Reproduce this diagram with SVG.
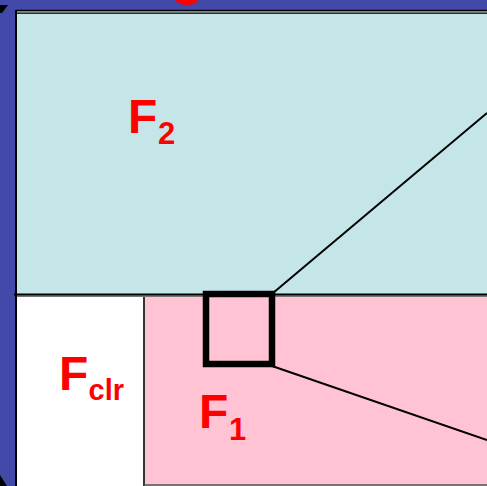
<svg xmlns="http://www.w3.org/2000/svg" width="487" height="486" viewBox="0 0 487 486">
<style>
.lbl{font-family:"Liberation Sans",Arial,sans-serif;font-weight:bold;fill:#FF0000}
.big{font-size:48px}
.sub{font-size:31px}
.edge{stroke:#000;stroke-width:2;fill:none}
</style>
<rect x="0" y="0" width="487" height="486" fill="#4349A9"/>
<ellipse cx="187" cy="0" rx="11" ry="5" fill="#FF0000"/>
<polygon points="0,5 8,5 2,13 0,13" fill="#000"/>
<polygon points="0,475 7,486 0,486" fill="#000"/>
<g id="F2">
<rect x="16" y="10" width="472" height="285" fill="#C4E6E8"/>
<line x1="16" y1="10.5" x2="487" y2="10.5" stroke="#000" stroke-width="1.5"/>
<line x1="17" y1="12" x2="487" y2="12" stroke="#777" stroke-width="1.5"/>
<line x1="17" y1="13.3" x2="487" y2="13.3" stroke="#000" stroke-width="1"/>
<line x1="16" y1="10" x2="16" y2="486" stroke="#000" stroke-width="2"/>
<text class="lbl big" x="128" y="133">F</text>
<text class="lbl sub" x="158" y="144">2</text>
</g>
<g id="Fclr">
<rect x="17" y="297" width="127" height="189" fill="#FFFFFF"/>
<text class="lbl big" x="59" y="390">F</text>
<text class="lbl" style="font-size:29px" x="88.5" y="400">clr</text>
</g>
<g id="F1">
<rect x="144" y="296" width="343" height="190" fill="#FFC3D3"/>
<line x1="144" y1="296" x2="144" y2="486" stroke="#333" stroke-width="2"/>
<line x1="144" y1="485" x2="487" y2="485" stroke="#555" stroke-width="1.5"/>
<text class="lbl big" x="199" y="428">F</text>
<text class="lbl sub" x="229" y="440">1</text>
</g>
<line x1="14" y1="294.5" x2="487" y2="294.5" stroke="#000" stroke-width="2"/>
<line x1="17" y1="296.3" x2="487" y2="296.3" stroke="#777" stroke-width="1.5"/>
<g id="zoom-box">
<rect x="206" y="294" width="66" height="70" fill="none" stroke="#000" stroke-width="6.5"/>
</g>
<g id="connectors">
<line class="edge" x1="273" y1="293" x2="487" y2="113"/>
<line class="edge" x1="272" y1="366" x2="487" y2="440"/>
</g>
</svg>
